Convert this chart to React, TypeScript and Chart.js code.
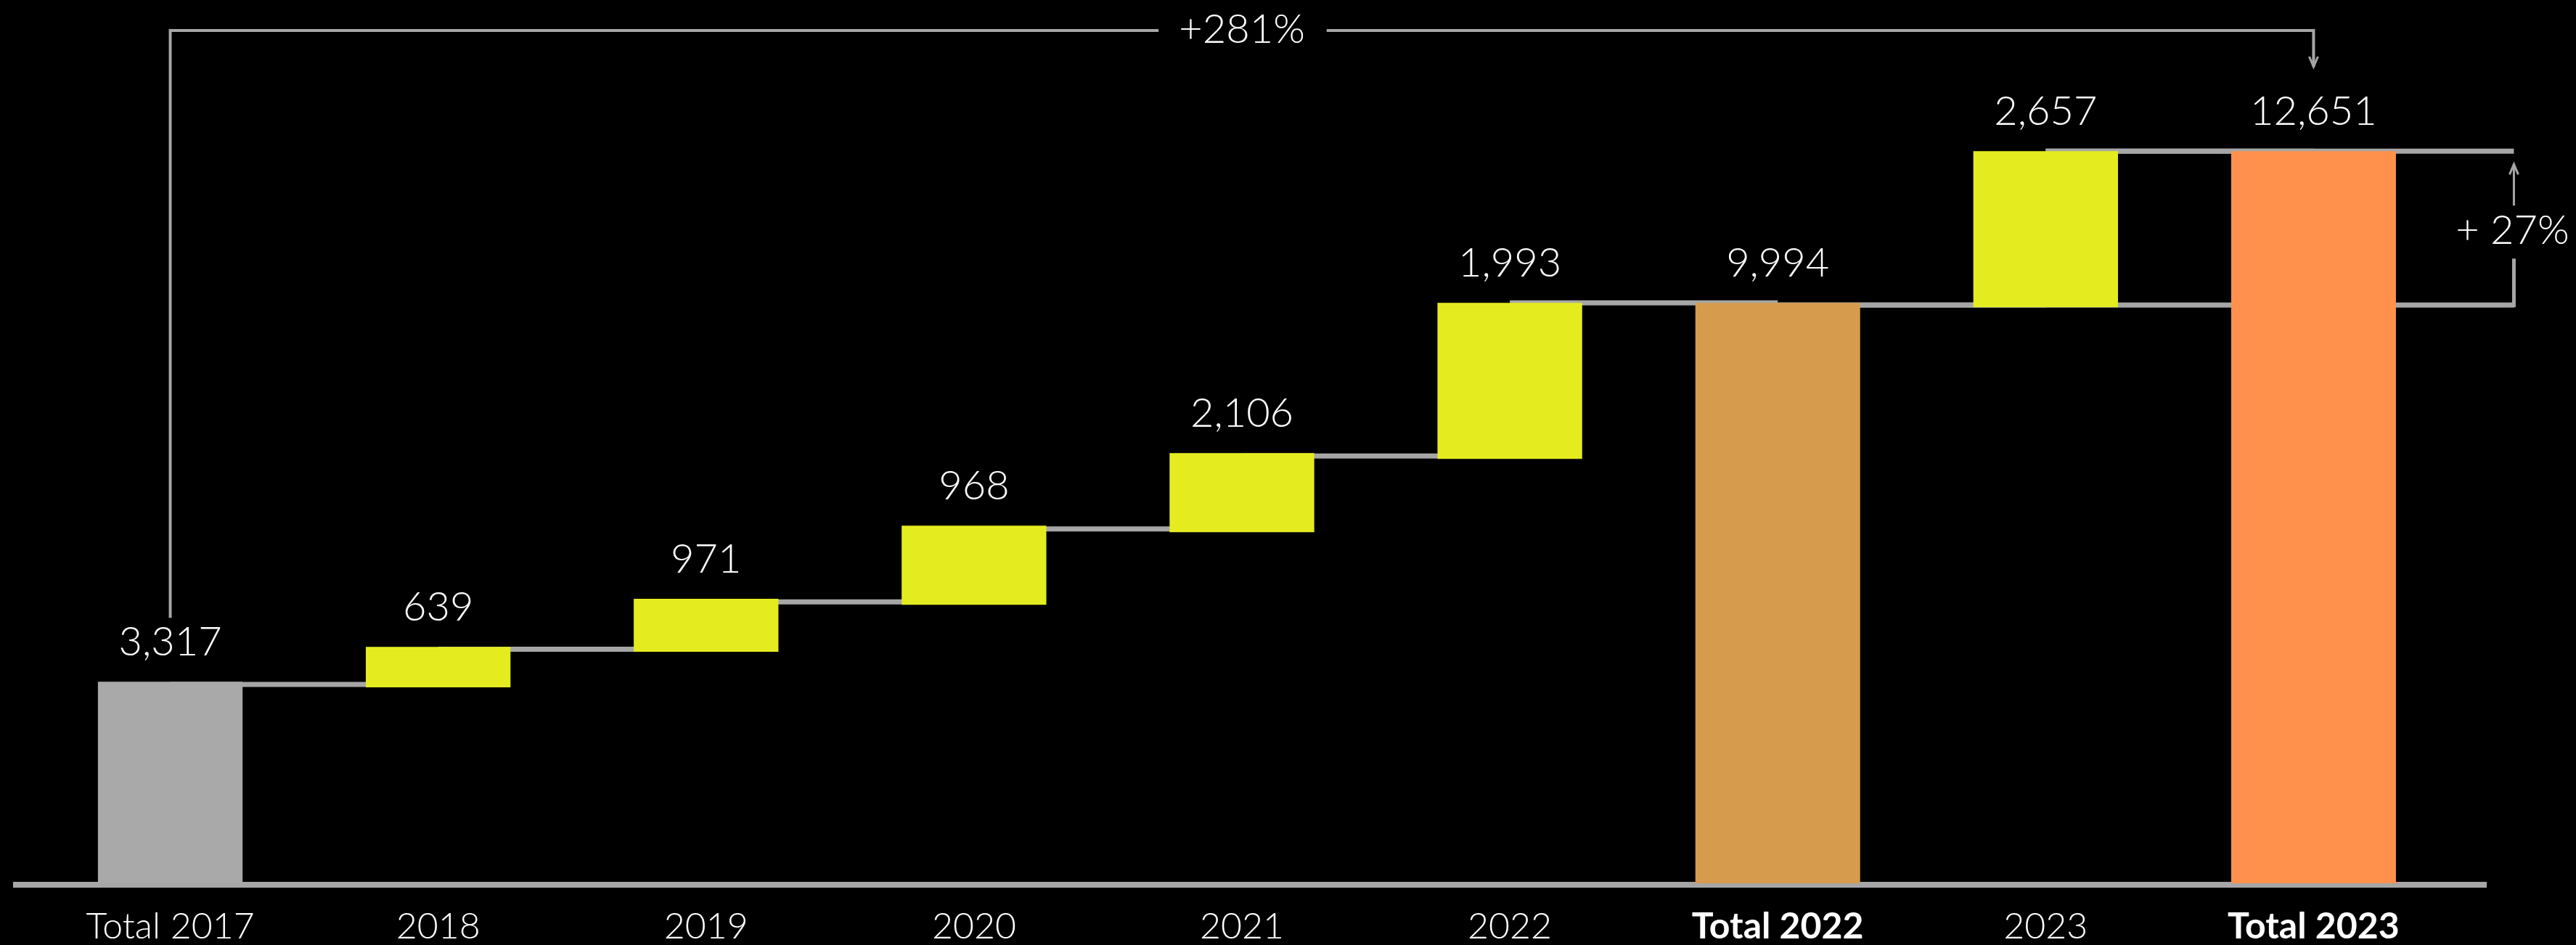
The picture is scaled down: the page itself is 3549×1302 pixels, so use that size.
import { useEffect, useRef } from 'react';
import { Chart, registerables } from 'chart.js';

Chart.register(...registerables);

// ---------- data ----------
const categories = ['Total 2017', '2018', '2019', '2020', '2021', '2022', 'Total 2022', '2023', 'Total 2023'];
// printed values (labels on the chart)
const printedValues = [3317, 639, 971, 968, 2106, 1993, 9994, 2657, 12651];
// bar extents as drawn in the picture (value units)
const barStarts = [0, 3385, 4000, 4814, 6068, 7335, 0, 9955, 0];
const barEnds = [3485, 4087, 4915, 6181, 7435, 10030, 10030, 12651, 12651];
const isTotal = [true, false, false, false, false, false, true, false, true];
const boldTick = [false, false, false, false, false, false, true, false, true];
const growthTotal = '+281%';
const growthLastYear = '+ 27%';

// ---------- styles ----------
const GRAY_BAR = '#A9A9A9';
const YELLOW = '#E4EC20';
const TAN = '#D69B4C';
const ORANGE = '#FF914D';
const LINE = '#A6A6A6';
const FONT = 'Lato, "Open Sans", sans-serif';

const fmt = (v: number) => v.toLocaleString('en-US');

const ranges: [number, number][] = barStarts.map((s, i) => [s, barEnds[i]]);
const stepColors = categories.map((_, i) => (i === 0 ? GRAY_BAR : YELLOW));
const totalColors = categories.map((_, i) => (i === 6 ? TAN : ORANGE));

const decor = {
  id: 'waterfallDecor',
  beforeDatasetsDraw(chart: any) {
    const { ctx, chartArea, scales } = chart;
    const x = scales.x;
    const y = scales.y;
    const n = categories.length;
    ctx.save();
    ctx.strokeStyle = LINE;
    // baseline
    ctx.lineWidth = 8;
    ctx.beginPath();
    ctx.moveTo(chartArea.left - 32, y.getPixelForValue(0) + 2);
    ctx.lineTo(chartArea.right + 54, y.getPixelForValue(0) + 2);
    ctx.stroke();
    // connectors
    ctx.lineWidth = 7;
    for (let i = 0; i < n - 1; i++) {
      const level = isTotal[i + 1] ? barEnds[i] : (barEnds[i] + barStarts[i + 1]) / 2;
      const yy = y.getPixelForValue(level);
      ctx.beginPath();
      ctx.moveTo(x.getPixelForValue(i), yy);
      ctx.lineTo(x.getPixelForValue(i + 1), yy);
      ctx.stroke();
    }
    // extensions to the right bracket
    const bx = x.getPixelForValue(n - 1) + 276;
    const yLow = y.getPixelForValue((barEnds[6] + barStarts[7]) / 2);
    const yHigh = y.getPixelForValue(barEnds[8]);
    ctx.beginPath();
    ctx.moveTo(x.getPixelForValue(6), yLow);
    ctx.lineTo(bx, yLow);
    ctx.moveTo(x.getPixelForValue(7), yHigh);
    ctx.lineTo(bx, yHigh);
    ctx.stroke();
    ctx.restore();
  },
  afterDatasetsDraw(chart: any) {
    const { ctx, chartArea, scales } = chart;
    const x = scales.x;
    const y = scales.y;
    const n = categories.length;
    ctx.save();
    // value labels
    ctx.fillStyle = '#FFFFFF';
    ctx.font = `300 56px ${FONT}`;
    ctx.textAlign = 'center';
    ctx.textBaseline = 'alphabetic';
    for (let i = 0; i < n; i++) {
      const top = y.getPixelForValue(barEnds[i]);
      ctx.fillText(fmt(printedValues[i]), x.getPixelForValue(i), top - 36);
    }

    ctx.strokeStyle = LINE;
    // top bracket
    const topY = chartArea.top + 21;
    const x0 = x.getPixelForValue(0);
    const x8 = x.getPixelForValue(n - 1);
    const mid = (x0 + x8) / 2;
    const tw = ctx.measureText(growthTotal).width;
    const label0Base = y.getPixelForValue(barEnds[0]) - 36;
    ctx.lineWidth = 4;
    ctx.beginPath();
    ctx.moveTo(x0, label0Base - 52);
    ctx.lineTo(x0, topY);
    ctx.lineTo(mid - tw / 2 - 28, topY);
    ctx.moveTo(mid + tw / 2 + 30, topY);
    ctx.lineTo(x8, topY);
    ctx.lineTo(x8, topY + 50);
    ctx.stroke();
    ctx.lineWidth = 3;
    ctx.beginPath();
    ctx.moveTo(x8 - 6, topY + 36);
    ctx.lineTo(x8, topY + 50);
    ctx.lineTo(x8 + 6, topY + 36);
    ctx.stroke();
    ctx.textBaseline = 'middle';
    ctx.fillText(growthTotal, mid, topY - 1);

    // right bracket
    const bx = x8 + 276;
    const yLow = y.getPixelForValue((barEnds[6] + barStarts[7]) / 2);
    const yHigh = y.getPixelForValue(barEnds[8]);
    const ty = (yLow + yHigh) / 2 + 4;
    ctx.lineWidth = 5;
    ctx.beginPath();
    ctx.moveTo(bx, yLow + 3);
    ctx.lineTo(bx, ty + 38);
    ctx.stroke();
    ctx.lineWidth = 3;
    ctx.beginPath();
    ctx.moveTo(bx, ty - 35);
    ctx.lineTo(bx, yHigh + 18);
    ctx.stroke();
    ctx.beginPath();
    ctx.moveTo(bx - 6, yHigh + 32);
    ctx.lineTo(bx, yHigh + 18);
    ctx.lineTo(bx + 6, yHigh + 32);
    ctx.stroke();
    ctx.fillText(growthLastYear, bx - 2, ty);
    ctx.restore();
  },
};

export default function App() {
  const ref = useRef<HTMLCanvasElement | null>(null);

  useEffect(() => {
    if (!ref.current) return;
    const chart = new Chart(ref.current, {
      type: 'bar',
      data: {
        labels: categories,
        datasets: [
          {
            label: 'Steps',
            data: ranges.map((r, i) => (i === 6 || i === 8 ? null : r)) as any,
            backgroundColor: stepColors,
            barPercentage: 0.54,
            categoryPercentage: 1,
            grouped: false,
            borderWidth: 0,
          } as any,
          {
            label: 'Totals',
            data: ranges.map((r, i) => (i === 6 || i === 8 ? r : null)) as any,
            backgroundColor: totalColors,
            barPercentage: 0.615,
            categoryPercentage: 1,
            grouped: false,
            borderWidth: 0,
          } as any,
        ],
      },
      options: {
        animation: false,
        responsive: false,
        maintainAspectRatio: false,
        layout: { padding: { left: 50, right: 177, top: 21, bottom: 0 } },
        plugins: {
          legend: { display: false },
          tooltip: { enabled: false },
        },
        scales: {
          x: {
            offset: true,
            grid: { display: false, drawTicks: false },
            border: { display: false },
            afterFit: (scale: any) => {
              scale.height = 85;
            },
            ticks: {
              color: '#FFFFFF',
              padding: 30,
              autoSkip: false,
              maxRotation: 0,
              font: (c: any) => ({
                family: FONT,
                size: 50,
                weight: boldTick[c.index] ? 'bold' : '300',
                lineHeight: 1.2,
              }),
            },
          } as any,
          y: {
            display: false,
            min: 0,
            max: 15000,
          },
        },
      },
      plugins: [decor],
    });
    return () => chart.destroy();
  }, []);

  return (
    <div style={{ position: 'fixed', left: 0, top: 0, width: 3549, height: 1302, background: '#000' }}>
      <canvas ref={ref} width={3549} height={1302} style={{ display: 'block' }} />
    </div>
  );
}
